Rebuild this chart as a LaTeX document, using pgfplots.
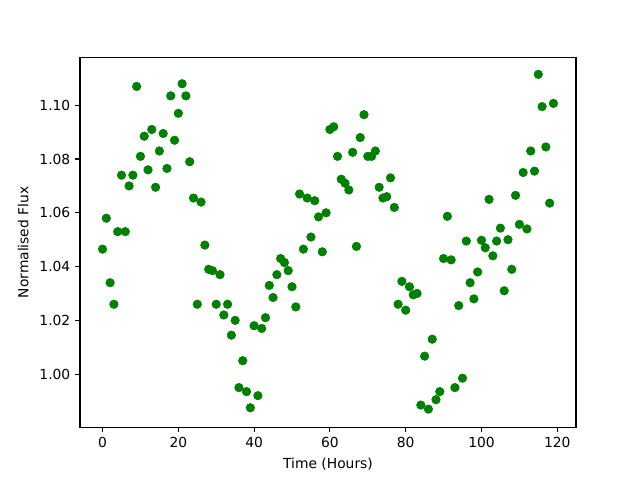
\documentclass[border=0pt]{standalone}
\usepackage{pgfplots}
\pgfplotsset{compat=1.18}
\usepackage{fontspec}
\setmainfont{DejaVu Sans}
\definecolor{mplgreen}{RGB}{0,128,0}
\begin{document}
\begin{tikzpicture}
\begin{axis}[
  name=ax, at={(0,0)}, anchor=south west,
  scale only axis, width=4.96in, height=3.696in,
  xmin=-5.95, xmax=124.95, ymin=0.98027, ymax=1.11773,
  xtick={0,20,...,120},
  ytick={1.00,1.02,1.04,1.06,1.08,1.10},
  yticklabel style={/pgf/number format/.cd,fixed,fixed zerofill,precision=2},
  /pgf/number format/assume math mode=true,
  tick align=outside, tick pos=left,
  major tick length=3.5pt,
  every tick/.style={black, line width=0.8pt},
  axis line style={line width=0.8pt},
  tick label style={font=\fontsize{10}{12}\selectfont},
  label style={font=\fontsize{10}{12}\selectfont},
  xlabel={Time (Hours)}, ylabel={Normalised Flux},
  xlabel style={yshift=-1pt},
  ylabel style={yshift=1pt},
]
\addplot[only marks, mark=*, mark size=3.1pt, mplgreen, mark options={fill=mplgreen, draw=mplgreen}] coordinates {
(0,1.0465) (1,1.058) (2,1.034) (3,1.026) (4,1.053) (5,1.074) (6,1.053) (7,1.070) (8,1.074) (9,1.107)
(10,1.081) (11,1.0885) (12,1.076) (13,1.091) (14,1.0695) (15,1.083) (16,1.0895) (17,1.0765) (18,1.1035) (19,1.087)
(20,1.097) (21,1.108) (22,1.1035) (23,1.079) (24,1.0655) (25,1.026) (26,1.064) (27,1.048) (28,1.039) (29,1.0385)
(30,1.026) (31,1.037) (32,1.022) (33,1.026) (34,1.0145) (35,1.020) (36,0.995) (37,1.005) (38,0.9935) (39,0.9875)
(40,1.018) (41,0.992) (42,1.017) (43,1.021) (44,1.033) (45,1.0285) (46,1.037) (47,1.043) (48,1.0415) (49,1.0385)
(50,1.0325) (51,1.025) (52,1.067) (53,1.0465) (54,1.0655) (55,1.051) (56,1.0645) (57,1.0585) (58,1.0455) (59,1.060)
(60,1.091) (61,1.092) (62,1.081) (63,1.0725) (64,1.071) (65,1.0685) (66,1.0825) (67,1.0475) (68,1.088) (69,1.0965)
(70,1.081) (71,1.081) (72,1.083) (73,1.0695) (74,1.0655) (75,1.066) (76,1.073) (77,1.062) (78,1.026) (79,1.0345)
(80,1.0238) (81,1.0325) (82,1.0295) (83,1.030) (84,0.9885) (85,1.0067) (86,0.987) (87,1.013) (88,0.9905) (89,0.9935)
(90,1.043) (91,1.0587) (92,1.0425) (93,0.995) (94,1.0255) (95,0.9985) (96,1.0495) (97,1.034) (98,1.028) (99,1.038)
(100,1.0498) (101,1.047) (102,1.065) (103,1.044) (104,1.0495) (105,1.0543) (106,1.031) (107,1.050) (108,1.039) (109,1.0665)
(110,1.0557) (111,1.075) (112,1.054) (113,1.083) (114,1.0755) (115,1.1115) (116,1.0995) (117,1.0845) (118,1.0636) (119,1.1007)
};
\end{axis}
\path (ax.south west) ++(-0.8in,-0.528in) rectangle ++(6.4in,4.8in);
\end{tikzpicture}
\end{document}
